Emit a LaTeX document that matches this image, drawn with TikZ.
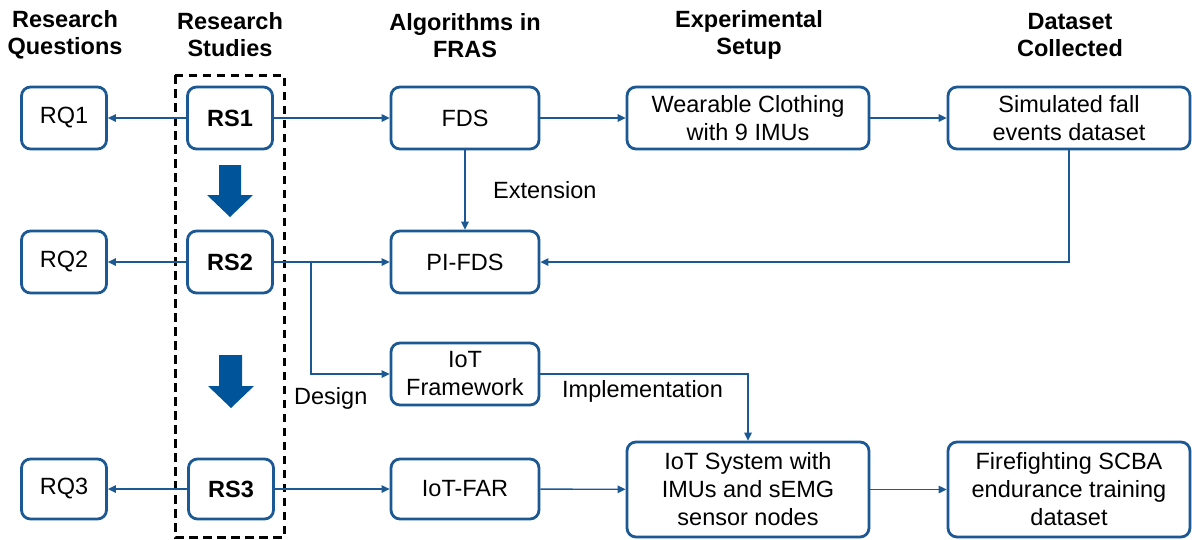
\documentclass[tikz,border=0pt]{standalone}
\usepackage{fontspec}
\setmainfont{Liberation Sans}
\usetikzlibrary{arrows.meta}
\definecolor{boxblue}{RGB}{28,88,148}
\definecolor{flowblue}{RGB}{0,84,153}
\begin{document}
\begin{tikzpicture}[x=1pt,y=-1pt,
  every node/.style={font=\fontsize{23.5}{28}\selectfont, inner sep=0pt},
  box/.style={draw=boxblue, line width=2.8pt, rounded corners=9pt, align=center,
    minimum height=62pt},
  small/.style={box, minimum width=85pt},
  mid/.style={box, minimum width=148pt},
  wide/.style={box, minimum width=242pt},
  tall/.style={wide, minimum height=95pt},
  bold/.style={font=\bfseries\fontsize{23.5}{28}\selectfont},
  head/.style={font=\bfseries\fontsize{23.5}{27}\selectfont, align=center},
  link/.style={draw=boxblue, line width=1.4pt},
  arr/.style={link, -{Triangle[length=8pt,width=7.5pt]}},
  lbl/.style={anchor=west}
]
\useasboundingbox (0,0) rectangle (1192,539);

% column headings
\node[head] (h1) at (65,35)   {Research\\Questions};
\node[head] (h2) at (230,35)  {Research\\Studies};
\node[head] (h3) at (465,36)  {Algorithms in\\FRAS};
\node[head] (h4) at (749,35)  {Experimental\\Setup};
\node[head] (h5) at (1070,35) {Dataset\\Collected};

% research studies group
\draw[black, line width=3pt, dash pattern=on 8.5pt off 5.5pt] (175,75) rectangle (284,537);

% row 1
\node[small] (rq1) at (64,118)   {RQ1};
\node[small, bold] (rs1) at (230,118)  {RS1};
\node[mid]   (fds) at (465,118)  {FDS};
\node[wide]  (wear) at (748,118) {Wearable Clothing\\with 9 IMUs};
\node[wide]  (sim) at (1069,118) {Simulated fall\\events dataset};

% row 2
\node[small] (rq2) at (64,262)   {RQ2};
\node[small, bold] (rs2) at (230,262)  {RS2};
\node[mid]   (pifds) at (465,262) {PI-FDS};

% framework row
\node[mid]   (iotf) at (465,374) {IoT\\Framework};

% row 3
\node[small, minimum height=60pt] (rq3) at (64,489)  {RQ3};
\node[small, bold, minimum height=60pt] (rs3) at (231,489) {RS3};
\node[mid, minimum height=60pt] (far) at (465,489) {IoT-FAR};
\node[tall]  (sys) at (748,489.5)  {IoT System with\\IMUs and sEMG\\sensor nodes};
\node[tall]  (fire) at (1069,489.5) {Firefighting SCBA\\endurance training\\dataset};

% block arrows between the studies
\fill[flowblue] (219,165) -- (241,165) -- (241,195) -- (253,195) -- (230,217)
  -- (207,195) -- (219,195) -- cycle;
\fill[flowblue] (219,355) -- (242,355) -- (242,386) -- (254,386) -- (231,408)
  -- (208,386) -- (219,386) -- cycle;

% connectors
\draw[arr] (rs1) -- (rq1);
\draw[arr] (rs1) -- (fds);
\draw[arr] (fds) -- (wear);
\draw[arr] (wear) -- (sim);
\draw[arr] (fds) -- (pifds);
\draw[arr] (sim.south) |- (pifds.east);

\draw[arr] (rs2) -- (rq2);
\draw[arr] (rs2) -- (pifds);
\coordinate (split) at (311,262);
\draw[arr] (split) |- (iotf.west);
\draw[arr] (iotf.east) -| (sys.north);

\draw[arr] (rs3) -- (rq3);
\draw[arr] (rs3) -- (far);
\draw[arr] (far) -- (sys);
\draw[arr] (sys) -- (fire);

% connector labels
\node[lbl] (lext) at (493,190) {Extension};
\node[lbl] (ldes) at (294,398) {Design};
\node[lbl] (limp) at (562,391) {Implementation};
\end{tikzpicture}
\end{document}
